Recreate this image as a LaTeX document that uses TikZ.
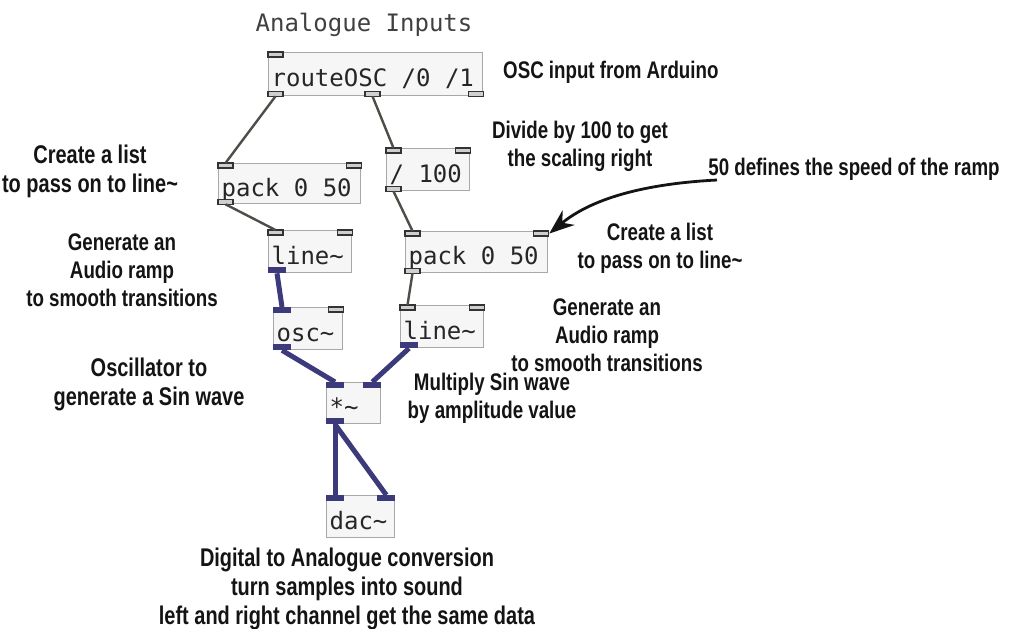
\documentclass[tikz,border=0pt]{standalone}
\usepackage{fontspec}
\newfontfamily\annfont[FakeStretch=0.78]{Liberation Sans}
\newfontfamily\pdfont{DejaVu Sans Mono}
\newcommand\pdgap{\hspace*{0.602em}}
\usetikzlibrary{arrows.meta}
\definecolor{boxfill}{HTML}{F6F6F6}
\definecolor{boxline}{HTML}{A8A8A8}
\definecolor{audio}{RGB}{60,58,122}
\definecolor{ctrl}{HTML}{4E4E48}
\definecolor{portfill}{HTML}{CFCFCF}
\definecolor{ink}{HTML}{141414}
\begin{document}
\begin{tikzpicture}[x=1pt,y=-1pt,
 pdbox/.style={draw=boxline, fill=boxfill, line width=1.3pt, anchor=north west,
   inner xsep=3pt, inner ysep=0pt, font=\pdfont\fontsize{24}{26}\selectfont,
   text=black!85, align=left, text height=25pt, text depth=0pt},
 cport/.style={draw=black!80, fill=portfill, line width=1.2pt, minimum width=15pt,
   minimum height=5pt, inner sep=0pt, outer sep=0pt},
 aport/.style={fill=audio, minimum width=18pt, minimum height=6pt, inner sep=0pt, outer sep=0pt},
 cwire/.style={draw=ctrl, line width=2.4pt},
 awire/.style={draw=audio, line width=5pt},
 ann/.style={font=\annfont\bfseries\fontsize{24}{28}\selectfont, text=ink, align=center,
   inner sep=0pt, anchor=base},
 annbig/.style={ann, font=\annfont\bfseries\fontsize{25.6}{29}\selectfont},
]
\path[fill=white] (0,0) rectangle (1020,629);
\useasboundingbox (0,0) rectangle (1020,629);

\node[font=\pdfont\fontsize{24}{26}\selectfont, text=black!75, inner sep=0pt, anchor=base] (title) at (364,31) {Analogue\pdgap Inputs};

% boxes
\node[pdbox, text width=208pt, minimum height=43pt] (route) at (268,52) {routeOSC\pdgap/0\pdgap/1};
\node[pdbox, text width=136pt, minimum height=40pt] (pl) at (218,163) {pack\pdgap 0\pdgap 50};
\node[pdbox, text width=77pt, minimum height=42pt] (div) at (386,148) {/\pdgap 100};
\node[pdbox, text width=77pt, minimum height=42pt] (ll) at (268,230) {line\textasciitilde};
\node[pdbox, text width=136pt, minimum height=41pt] (pr) at (405,231) {pack\pdgap 0\pdgap 50};
\node[pdbox, text width=63pt, minimum height=42pt] (osc) at (273,307) {osc\textasciitilde};
\node[pdbox, text width=77pt, minimum height=42pt] (lr) at (400,305) {line\textasciitilde};
\node[pdbox, text width=48pt, minimum height=41pt] (mul) at (326,382) {*\textasciitilde};
\node[pdbox, text width=62pt, minimum height=42pt] (dac) at (326,495) {dac\textasciitilde};

% ports
\node[cport, anchor=north west] (route-i0) at (route.north west) {};
\node[cport, anchor=south west] (route-o0) at (route.south west) {};
\node[cport, anchor=south west] (route-o1) at ([xshift=97pt]route.south west) {};
\node[cport, anchor=south east] (route-o2) at (route.south east) {};

\node[cport, anchor=north west] (pl-i0) at (pl.north west) {};
\node[cport, anchor=north east] (pl-i1) at (pl.north east) {};
\node[cport, anchor=south west] (pl-o0) at (pl.south west) {};

\node[cport, anchor=north west] (div-i0) at (div.north west) {};
\node[cport, anchor=north east] (div-i1) at (div.north east) {};
\node[cport, anchor=south west] (div-o0) at (div.south west) {};

\node[cport, anchor=north west] (ll-i0) at (ll.north west) {};
\node[cport, anchor=north east] (ll-i1) at (ll.north east) {};
\node[aport, anchor=south west] (ll-o0) at (ll.south west) {};

\node[cport, anchor=north west] (pr-i0) at (pr.north west) {};
\node[cport, anchor=north east] (pr-i1) at (pr.north east) {};
\node[cport, anchor=south west] (pr-o0) at (pr.south west) {};

\node[aport, anchor=north west] (osc-i0) at (osc.north west) {};
\node[cport, anchor=north east] (osc-i1) at (osc.north east) {};
\node[aport, anchor=south west] (osc-o0) at (osc.south west) {};

\node[cport, anchor=north west] (lr-i0) at (lr.north west) {};
\node[cport, anchor=north east] (lr-i1) at (lr.north east) {};
\node[aport, anchor=south west] (lr-o0) at (lr.south west) {};

\node[aport, anchor=north west] (mul-i0) at (mul.north west) {};
\node[aport, anchor=north east] (mul-i1) at (mul.north east) {};
\node[aport, anchor=south west] (mul-o0) at (mul.south west) {};

\node[aport, anchor=north west] (dac-i0) at (dac.north west) {};
\node[aport, anchor=north east] (dac-i1) at (dac.north east) {};

% wires
\draw[cwire] (route-o0.south) -- (pl-i0.north);
\draw[cwire] (route-o1.south) -- (div-i0.north);
\draw[cwire] (pl-o0.south) -- (ll-i0.north);
\draw[cwire] (div-o0.south) -- (pr-i0.north);
\draw[cwire] (pr-o0.south) -- (lr-i0.north);
\draw[awire] (ll-o0.south) -- (osc-i0.north);
\draw[awire] (osc-o0.south) -- (mul-i0.north);
\draw[awire] (lr-o0.south) -- (mul-i1.north);
\draw[awire] (mul-o0.south) -- (dac-i0.north);
\draw[awire] (mul-o0.south) -- (dac-i1.north);

% annotations (base = baseline of last line)
\node[ann, anchor=base west] (n-osc) at (503,78) {OSC input from Arduino};
\node[ann] (n-div) at (580,166) {Divide by 100 to get\\the scaling right};
\node[ann] (n-speed) at (854,175) {50 defines the speed of the ramp};
\node[ann] (n-pr) at (660,268) {Create a list\\to pass on to line\textasciitilde};
\node[ann] (n-lr) at (607,371) {Generate an\\Audio ramp\\to smooth transitions};
\node[annbig] (n-pl) at (90,192) {Create a list\\to pass on to line\textasciitilde};
\node[ann] (n-ll) at (122,306) {Generate an\\Audio ramp\\to smooth transitions};
\node[annbig] (n-oscn) at (149,405) {Oscillator to\\generate a Sin wave};
\node[ann] (n-mul) at (492,418) {Multiply Sin wave\\by amplitude value};
\node[annbig] (n-dac) at (347,624) {Digital to Analogue conversion\\turn samples into sound\\left and right channel get the same data};

% pointer arrow
\coordinate (arrstart) at (717,180);
\draw[ink, line width=2.8pt, -{Stealth[length=25pt,width=19pt]}]
  (arrstart) .. controls (640,184) and (590,200) .. ([xshift=1pt]pr-i1.east);
\end{tikzpicture}
\end{document}
